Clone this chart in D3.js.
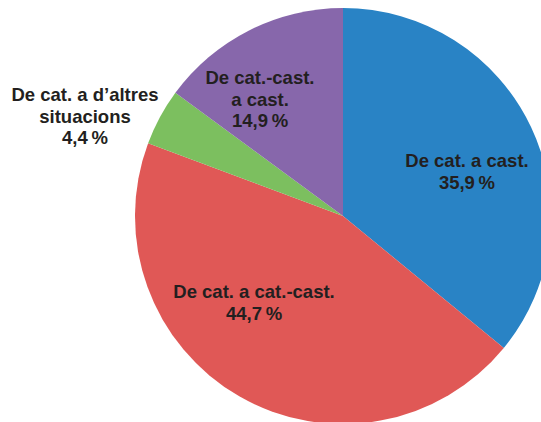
<!DOCTYPE html>
<html>
<head>
<meta charset="utf-8">
<script src="https://cdn.jsdelivr.net/npm/d3@7"></script>
<style>
  body { margin: 0; background: #fff; }
  svg { display: block; }
  .lbl { font-family: "Liberation Sans", Arial, sans-serif; font-weight: bold; font-size: 18.5px; fill: #231f20; }
</style>
</head>
<body>
<div id="chart"></div>
<script>
// data
var categories = ["De cat. a cast.", "De cat. a cat.-cast.", "De cat. a d\u2019altres situacions", "De cat.-cast. a cast."];
var values = [35.9, 44.7, 4.4, 14.9];
var colors = ["#2983c5", "#e05856", "#7cbf5f", "#8767ab"];
// label lines (manually broken like the original)
var labelLines = [
  ["De cat. a cast."],
  ["De cat. a cat.-cast."],
  ["De cat. a d\u2019altres", "situacions"],
  ["De cat.-cast.", "a cast."]
];

var W = 541, H = 422;
var cx = 343, cy = 216, R = 208;
// label anchor offsets from pie centre (first baseline)
var labelPos = [[124, -49], [-89, 82], [-258, -115], [-83, -132]];

var svg = d3.select("#chart").append("svg")
  .attr("width", W)
  .attr("height", H);

var g = svg.append("g").attr("transform", "translate(" + cx + "," + cy + ")");

var pie = d3.pie().sort(null).value(function(d) { return d; });
var arc = d3.arc().innerRadius(0).outerRadius(R);

g.selectAll("path")
  .data(pie(values))
  .enter().append("path")
  .attr("d", arc)
  .attr("fill", function(d, i) { return colors[i]; });

function fmt(v) { return d3.format(".1f")(v).replace(".", ",") + "\u2009%"; }

var lh = 21.5;
values.forEach(function(v, i) {
  var lines = labelLines[i].concat([fmt(v)]);
  var t = g.append("text")
    .attr("class", "lbl")
    .attr("text-anchor", "middle")
    .attr("x", labelPos[i][0])
    .attr("y", labelPos[i][1]);
  lines.forEach(function(s, k) {
    t.append("tspan")
      .attr("x", labelPos[i][0])
      .attr("dy", k == 0 ? 0 : lh)
      .text(s);
  });
});
</script>
</body>
</html>
